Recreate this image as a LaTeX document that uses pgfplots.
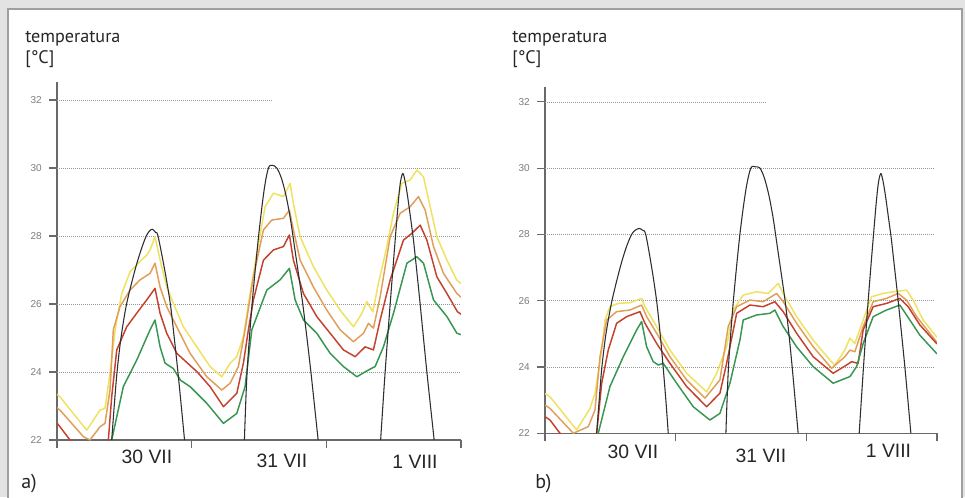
\documentclass[border=0pt]{standalone}
\usepackage{pgfplots}
\pgfplotsset{compat=1.18}
\usepackage{fontspec}
\setmainfont{PT Sans}
\newfontfamily\arialf{Liberation Sans}
\definecolor{cyel}{RGB}{238,226,95}
\definecolor{cora}{RGB}{224,158,88}
\definecolor{cred}{RGB}{195,65,45}
\definecolor{cgrn}{RGB}{55,150,80}
\definecolor{cblk}{RGB}{45,45,50}
\definecolor{axgray}{RGB}{105,105,105}
\definecolor{grgray}{RGB}{150,150,150}
\definecolor{tkgray}{RGB}{125,125,125}
\tikzset{
  grd/.style={draw=grgray, line width=0.6pt, dash pattern=on 0.6pt off 0.9pt},
  blk/.style={draw=cblk, line width=0.8pt, smooth, tension=0.5},
}
\pgfplotsset{
  panel/.style={
    scale only axis,
    axis lines=left,
    axis line style={-, draw=axgray, line width=0.8pt},
    xmin=0, xmax=72, ymin=22,
    xtick={0,24,48,72}, xticklabels={},
    ytick={22,24,...,32},
    tick align=outside,
    major tick length=6pt,
    tick style={draw=axgray, line width=0.8pt},
    yticklabel style={font=\arialf\fontsize{7.5}{8}\selectfont, text=tkgray, xshift=-2pt},
    /pgf/number format/assume math mode=true,
    every axis plot/.append style={line width=1.1pt, line join=round, no markers},
  },
}
\begin{document}
\begin{tikzpicture}
\useasboundingbox (0,0) rectangle (723.75pt,372.75pt);
\fill[gray!22] (0,0) rectangle (723.75pt,372.75pt);
\filldraw[fill=white, draw=gray!75, line width=0.8pt] (6pt,-2pt) rectangle (721.5pt,366pt);

% ---------------- panel a ----------------
\begin{axis}[panel, at={(42.75pt,42.75pt)}, anchor=south west,
  width=303pt, height=268.5pt, ymax=32.53]
\draw[grd] (axis cs:0,24) -- (axis cs:71.9,24);
\draw[grd] (axis cs:0,26) -- (axis cs:71.9,26);
\draw[grd] (axis cs:0,28) -- (axis cs:71.9,28);
\draw[grd] (axis cs:0,30) -- (axis cs:71.9,30);
\draw[grd] (axis cs:0,32) -- (axis cs:38.3,32);
% yellow
\addplot[cyel] coordinates {(0,23.35) (0.53,23.27) (5.3,22.29) (7.67,22.88) (8.56,22.93) (9.45,23.96) (10.34,25.2) (10.65,25.53) (11.54,26.3) (13.02,26.95) (14.5,27.2) (15.99,27.44) (16.58,27.59) (17.47,27.98) (18.37,27.3) (19.56,26.5) (20.74,26.02) (22.52,25.33) (24.91,24.74) (27.28,24.16) (29.37,23.86) (30.85,24.26) (32.04,24.45) (33.22,25.04) (34.41,26.31) (35.61,27.49) (37.09,28.86) (38.57,29.26) (40.35,29.16) (41.55,29.55) (42.13,28.96) (43.33,27.98) (45.7,27.1) (48.09,26.41) (50.46,25.82) (52.83,25.33) (54.33,25.72) (55.22,26.07) (56.29,25.77) (57.29,26.61) (58.79,27.69) (59.97,28.67) (61.46,29.55) (62.94,29.65) (64.14,29.94) (65.32,29.74) (66.51,28.86) (67.7,27.98) (69.49,27.29) (71.27,26.7) (72,26.6)};
% orange
\addplot[cora] coordinates {(0,22.95) (0.53,22.88) (4.69,22.1) (5.88,22.0) (7.67,22.39) (8.56,22.49) (9.45,23.47) (10.04,25.24) (11.23,25.92) (13.02,26.41) (14.8,26.71) (16.58,26.9) (17.47,27.2) (18.37,26.5) (19.56,25.92) (21.34,25.33) (23.72,24.55) (26.69,23.86) (29.37,23.47) (30.85,23.67) (32.33,24.16) (33.52,25.24) (35.0,26.8) (36.79,28.18) (38.28,28.47) (40.35,28.52) (41.42,28.76) (42.13,28.18) (43.33,27.29) (45.7,26.5) (48.09,25.82) (50.46,25.24) (52.83,24.89) (54.62,25.14) (55.51,25.43) (56.4,25.29) (57.59,26.21) (59.38,27.98) (61.16,28.67) (62.94,28.86) (64.42,29.16) (65.62,28.76) (67.1,27.69) (68.88,26.9) (71.27,26.31) (72,26.2)};
% red
\addplot[cred] coordinates {(0,22.5) (0.53,22.39) (2.32,22.0) (5.88,21.7) (8.56,21.8) (9.15,22.0) (9.75,23.27) (10.65,24.65) (12.43,25.33) (14.21,25.73) (15.99,26.12) (17.47,26.46) (18.37,25.73) (19.56,25.14) (21.34,24.55) (25.0,24.0) (27.28,23.57) (29.66,22.98) (32.04,23.37) (33.22,24.26) (34.11,25.24) (35.0,26.12) (36.79,27.29) (38.57,27.59) (40.35,27.69) (41.42,28.03) (42.13,27.29) (43.92,26.31) (46.3,25.63) (48.68,25.14) (51.05,24.65) (53.14,24.45) (54.92,24.74) (56.4,24.65) (57.59,25.53) (59.38,26.71) (61.75,27.88) (63.25,28.08) (64.73,28.32) (65.92,27.88) (67.7,26.8) (69.49,26.31) (71.38,25.77) (72,25.7)};
% green
\addplot[cgrn] coordinates {(7.67,21.0) (9.75,22.0) (11.82,23.57) (14.21,24.35) (16.58,25.24) (17.47,25.53) (18.37,24.74) (19.26,24.26) (20.74,24.1) (22.0,23.76) (23.72,23.57) (26.69,23.08) (29.66,22.49) (32.04,22.78) (33.52,23.57) (34.72,25.24) (37.39,26.41) (39.76,26.71) (41.42,27.05) (42.44,26.12) (43.92,25.53) (46.3,25.14) (48.68,24.55) (51.05,24.16) (53.44,23.86) (55.51,24.06) (56.7,24.16) (58.18,24.74) (59.97,25.73) (62.36,27.2) (64.14,27.39) (65.32,27.2) (67.1,26.12) (69.49,25.63) (71.27,25.14) (72,25.1)};
% black
\addplot[blk] coordinates {(9.75,22) (10.2,23) (10.7,24) (11.4,25) (12.4,26) (13.9,27) (15.0,27.6) (15.9,28.0) (16.5,28.15) (16.99,28.2) (17.6,28.1) (18.0,28.0) (19.2,27.0) (20.2,26.0) (20.9,25.0) (21.55,24.0) (22.15,23.0) (22.73,22)};
\addplot[blk] coordinates {(33.4,22) (33.88,24) (34.77,26) (35.93,28) (36.91,29.35) (37.68,30) (38.39,30.08) (39.17,30) (40.0,29.7) (40.8,29.2) (41.6,28.5) (42.4,27.6) (43.2,26.7) (43.8,26.0) (44.55,25.0) (45.25,24.0) (45.9,23.0) (46.54,22)};
\addplot[blk] coordinates {(57.68,22) (58.48,24) (59.38,26) (60.27,27.88) (60.86,29.06) (61.22,29.6) (61.64,29.84) (62.05,29.6) (62.5,29.15) (63.0,28.55) (63.53,27.88) (64.1,27.0) (64.72,26) (65.92,24) (67.22,22)};
\end{axis}

% ---------------- panel b ----------------
\begin{axis}[panel, at={(408.75pt,47.8pt)}, anchor=south west,
  width=294pt, height=259.7pt, ymax=32.45]
\draw[grd] (axis cs:0,24) -- (axis cs:71.6,24);
\draw[grd] (axis cs:0,26) -- (axis cs:71.6,26);
\draw[grd] (axis cs:0,28) -- (axis cs:71.6,28);
\draw[grd] (axis cs:0,30) -- (axis cs:71.6,30);
\draw[grd] (axis cs:0,32) -- (axis cs:40.6,32);
\addplot[cyel] coordinates {(0,23.2) (0.92,23.1) (5.82,22.1) (8.26,22.75) (9.18,23.2) (10.41,24.5) (11.02,25.42) (11.93,25.82) (13.46,25.92) (15.61,25.94) (17.75,26.07) (18.36,25.82) (20.51,25.22) (22.95,24.51) (26.02,23.81) (29.69,23.25) (31.52,23.81) (33.36,24.61) (34.57,25.72) (36.41,26.17) (38.87,26.27) (41.0,26.22) (42.83,26.52) (43.75,26.22) (46.21,25.52) (49.26,24.81) (52.33,24.21) (53.24,24.06) (55.08,24.51) (56.0,24.87) (56.92,24.71) (58.44,25.42) (59.98,26.12) (62.11,26.22) (63.95,26.27) (66.41,26.32) (67.62,26.02) (69.46,25.42) (71.92,24.91) (72,24.9)};
\addplot[cora] coordinates {(0,22.85) (0.92,22.75) (5.2,22.0) (7.95,22.2) (9.18,22.7) (10.1,24.31) (11.33,25.42) (13.16,25.67) (15.61,25.72) (17.75,25.87) (18.67,25.52) (20.51,25.02) (22.95,24.31) (26.02,23.61) (29.38,23.06) (32.13,23.61) (33.65,25.22) (35.2,25.82) (37.64,26.02) (40.08,25.97) (42.54,26.22) (43.75,25.97) (46.21,25.32) (49.26,24.61) (52.64,23.96) (55.08,24.31) (56.0,24.51) (56.92,24.46) (58.44,25.22) (60.28,25.97) (62.74,26.07) (64.87,26.22) (66.41,26.02) (68.25,25.52) (71.92,24.76) (72,24.75)};
\addplot[cred] coordinates {(0,22.5) (0.92,22.4) (2.75,22.0) (6.43,21.7) (9.49,22.0) (10.41,23.51) (11.62,24.51) (13.16,25.32) (15.0,25.52) (17.44,25.67) (18.36,25.32) (20.51,24.71) (22.95,24.11) (26.02,23.41) (29.69,22.8) (32.13,23.21) (33.36,24.11) (35.2,25.62) (37.64,25.87) (40.08,25.82) (42.23,25.97) (43.75,25.67) (46.21,25.02) (49.26,24.31) (52.93,23.81) (55.39,24.06) (56.31,24.16) (57.52,24.11) (58.44,25.12) (60.28,25.82) (62.74,25.92) (65.18,26.07) (66.7,25.82) (68.85,25.27) (71.92,24.71) (72,24.7)};
\addplot[cgrn] coordinates {(8,21.0) (9.79,22.0) (11.93,23.41) (14.38,24.31) (16.84,25.12) (17.75,25.37) (18.67,24.61) (19.88,24.16) (20.8,24.06) (21.72,24.11) (24.18,23.51) (27.23,22.8) (30.29,22.4) (32.13,22.6) (33.97,23.51) (35.8,24.81) (36.41,25.42) (38.87,25.57) (41.31,25.62) (42.23,25.72) (43.75,25.22) (46.21,24.61) (49.26,24.01) (52.93,23.51) (56.0,23.71) (57.23,24.01) (58.44,24.71) (60.28,25.52) (62.74,25.72) (65.18,25.87) (67.01,25.42) (68.85,24.96) (71.92,24.41) (72,24.4)};
\addplot[blk] coordinates {(9.49,22) (9.95,23) (10.45,24) (11.2,25) (12.3,26) (13.8,27) (14.9,27.6) (15.9,28.0) (16.6,28.13) (17.31,28.18) (17.9,28.13) (18.5,28.0) (19.6,27.0) (20.5,26.0) (21.15,25.0) (21.7,24.0) (22.2,23.0) (22.64,22)};
\addplot[blk] coordinates {(33.23,22) (33.7,24) (34.6,26) (35.8,28) (36.9,29.35) (37.8,30) (38.69,30.04) (39.5,30) (40.3,29.7) (41.1,29.2) (41.9,28.5) (42.7,27.6) (43.5,26.7) (44.1,26.0) (44.8,25.0) (45.4,24.0) (45.95,23.0) (46.5,22)};
\addplot[blk] coordinates {(57.71,22) (58.5,24) (59.36,26) (60.28,27.88) (60.9,29.06) (61.28,29.6) (61.69,29.84) (62.1,29.6) (62.55,29.15) (63.05,28.55) (63.6,27.88) (64.2,27.0) (64.87,26) (66.1,24) (67.2,22)};
\end{axis}

% ---------------- texts ----------------
\begin{scope}[every node/.style={inner sep=0pt, text=black!85}]
\node[anchor=base west, font=\fontsize{13.6}{15}\selectfont] at (18.75pt,340.5pt) {temperatura};
\node[anchor=base west, font=\fontsize{13.6}{15}\selectfont] at (18.75pt,324.75pt) {[°C]};
\node[anchor=base west, font=\fontsize{13.6}{15}\selectfont] at (384pt,340.5pt) {temperatura};
\node[anchor=base west, font=\fontsize{13.6}{15}\selectfont] at (384pt,324.75pt) {[°C]};
\node[anchor=base west, font=\fontsize{15}{17}\selectfont] at (15.75pt,6.75pt) {a)};
\node[anchor=base west, font=\fontsize{15}{17}\selectfont] at (401.25pt,6.75pt) {b)};
\node[anchor=base, font=\arialf\fontsize{14.5}{17}\selectfont] at (110.25pt,25.5pt) {30 VII};
\node[anchor=base, font=\arialf\fontsize{14.5}{17}\selectfont] at (211.5pt,22.5pt) {31 VII};
\node[anchor=base, font=\arialf\fontsize{14.5}{17}\selectfont] at (311.25pt,21.75pt) {1 VIII};
\node[anchor=base, font=\arialf\fontsize{14.5}{17}\selectfont] at (474.75pt,29.25pt) {30 VII};
\node[anchor=base, font=\arialf\fontsize{14.5}{17}\selectfont] at (570.75pt,26.25pt) {31 VII};
\node[anchor=base, font=\arialf\fontsize{14.5}{17}\selectfont] at (666.4pt,30pt) {1 VIII};
\end{scope}
\end{tikzpicture}
\end{document}
